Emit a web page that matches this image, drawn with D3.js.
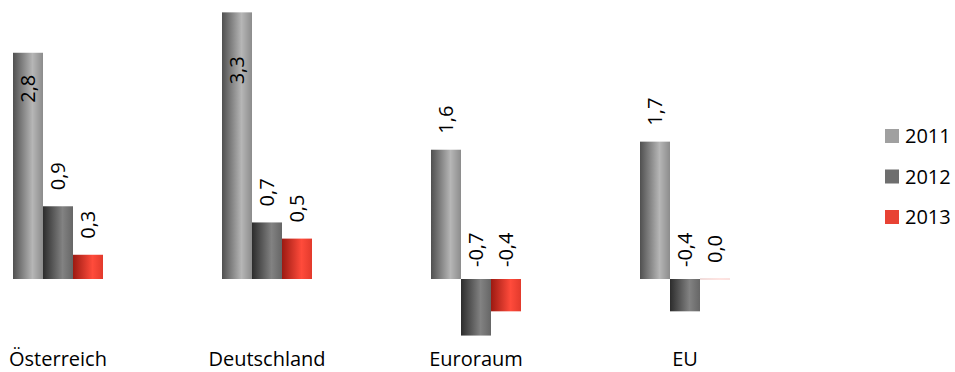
<!DOCTYPE html>
<html>
<head>
<meta charset="utf-8">
<script src="https://cdn.jsdelivr.net/npm/d3@7"></script>
<style>
  html, body { margin: 0; padding: 0; background: #fff; }
  svg { display: block; font-family: "Open Sans", "DejaVu Sans", sans-serif; }
</style>
</head>
<body>
<svg id="chart" width="955" height="372"></svg>
<script>
// Wirtschaftswachstum (BIP real, Veränderung in %)
const categories = ["Österreich", "Deutschland", "Euroraum", "EU"];
const years = ["2011", "2012", "2013"];
const values2011 = [2.8, 3.3, 1.6, 1.7];
const values2012 = [0.9, 0.7, -0.7, -0.4];
const values2013 = [0.3, 0.5, -0.4, 0.0];
const seriesValues = [values2011, values2012, values2013];

// bar gradients (left edge, highlight, right edge) and legend swatches
const gradientStops = [
  ["#505050", "#b6b6b6", "#8c8c8c"],
  ["#2c2c2c", "#828282", "#666666"],
  ["#9c1a12", "#ff4b3b", "#e23a2c"]
];
const swatchColors = ["#a0a0a0", "#6e6e6e", "#e84234"];

// labels of the tallest bars sit inside the bar, offset from its top
const insideLabelOffset = { "Österreich|2011": 50, "Deutschland|2011": 72 };

const svg = d3.select("#chart");
const defs = svg.append("defs");
gradientStops.forEach((stops, i) => {
  const g = defs.append("linearGradient")
    .attr("id", "grad" + i)
    .attr("x1", "0%").attr("x2", "100%").attr("y1", "0%").attr("y2", "0%");
  g.append("stop").attr("offset", "0%").attr("stop-color", stops[0]);
  g.append("stop").attr("offset", "65%").attr("stop-color", stops[1]);
  g.append("stop").attr("offset", "100%").attr("stop-color", stops[2]);
});

const x0 = d3.scaleBand().domain(categories).range([13, 730])
  .paddingInner(119 / 209).paddingOuter(0);
const x1 = d3.scaleBand().domain(years).range([0, x0.bandwidth()]).padding(0);
const y = d3.scaleLinear().domain([-1, 3.5]).range([279 + 80.8, 279 - 3.5 * 80.8]);

const rows = [];
categories.forEach((c, ci) => {
  years.forEach((yr, si) => {
    rows.push({ cat: c, year: yr, si: si, v: seriesValues[si][ci] });
  });
});

const fmt = v => d3.format(".1f")(v).replace(".", ",").replace("−", "-");

const groups = svg.append("g");

// bars
groups.selectAll("rect.bar").data(rows).join("rect")
  .attr("class", "bar")
  .attr("x", d => x0(d.cat) + x1(d.year))
  .attr("width", x1.bandwidth())
  .attr("y", d => d.v === 0 ? y(0) - 0.5 : Math.min(y(d.v), y(0)))
  .attr("height", d => d.v === 0 ? 1 : Math.abs(y(d.v) - y(0)))
  .attr("fill", d => `url(#grad${d.si})`)
  .attr("opacity", d => d.v === 0 ? 0.3 : 1);

// value labels, rotated to read upward
groups.selectAll("text.val").data(rows).join("text")
  .attr("class", "val")
  .attr("transform", d => {
    const cx = x0(d.cat) + x1(d.year) + x1.bandwidth() / 2;
    const key = d.cat + "|" + d.year;
    let sy;
    if (key in insideLabelOffset) sy = y(d.v) + insideLabelOffset[key];
    else sy = y(Math.max(d.v, 0)) - (d.v < 0 ? 12 : 16);
    return `translate(${cx},${sy}) rotate(-90)`;
  })
  .attr("text-anchor", "start")
  .attr("dy", "0.36em")
  .attr("font-size", 20)
  .attr("fill", "#000")
  .text(d => fmt(d.v));

// category labels
svg.append("g").selectAll("text").data(categories).join("text")
  .attr("x", d => x0(d) + x0.bandwidth() / 2)
  .attr("y", 366)
  .attr("text-anchor", "middle")
  .attr("font-size", 20)
  .attr("fill", "#000")
  .text(d => d);

// legend
const legend = svg.append("g").attr("transform", "translate(885,136)");
const items = legend.selectAll("g").data(years).join("g")
  .attr("transform", (d, i) => `translate(0,${i * 40.5})`);
items.append("rect")
  .attr("x", 0).attr("y", -7).attr("width", 14).attr("height", 14)
  .attr("fill", (d, i) => swatchColors[i]);
items.append("text")
  .attr("x", 20).attr("y", 0).attr("dy", "0.36em")
  .attr("font-size", 20).attr("fill", "#000")
  .text(d => d);
</script>
</body>
</html>
